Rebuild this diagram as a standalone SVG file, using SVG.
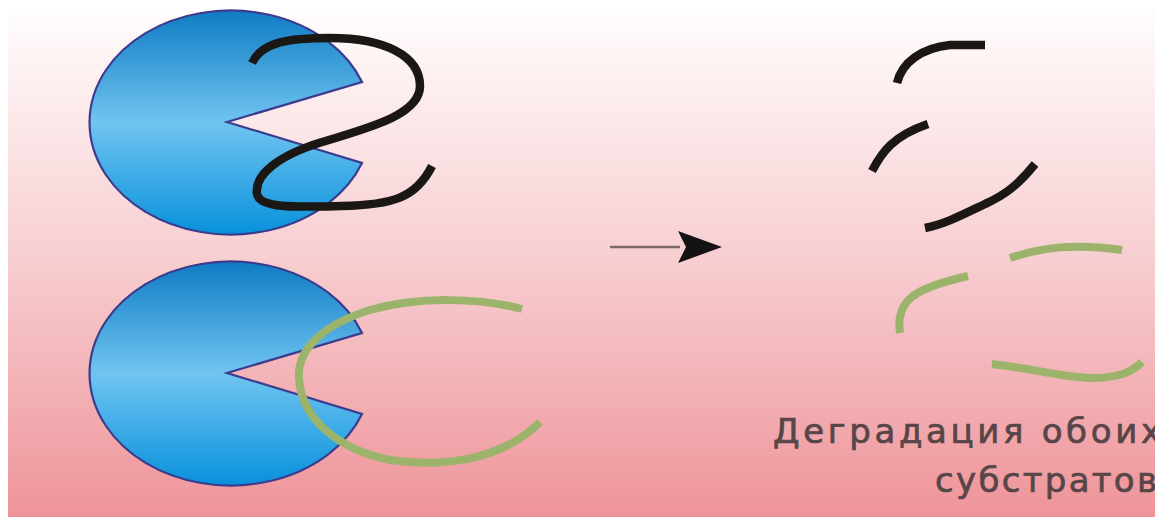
<svg xmlns="http://www.w3.org/2000/svg" width="1155" height="517" viewBox="0 0 1155 517">
  <defs>
    <linearGradient id="bg" x1="0" y1="0" x2="0" y2="1">
      <stop offset="0" stop-color="#fffdfd"/>
      <stop offset="0.5" stop-color="#f7cdd0"/>
      <stop offset="1" stop-color="#ee9499"/>
    </linearGradient>
    <linearGradient id="enzymeFill" x1="0" y1="0" x2="0" y2="1">
      <stop offset="0" stop-color="#0f7cc4"/>
      <stop offset="0.5" stop-color="#70c4f0"/>
      <stop offset="1" stop-color="#0891dc"/>
    </linearGradient>
    <style>
      .enzyme { fill: url(#enzymeFill); stroke: #3c3c8e; stroke-width: 2.2; stroke-linejoin: miter; }
      .black { fill: none; stroke: #1b1715; stroke-width: 8.5; stroke-linecap: butt; stroke-linejoin: round; }
      .green { fill: none; stroke: #9bb36b; stroke-width: 8; stroke-linecap: butt; stroke-linejoin: round; }
      .label { font-family: "DejaVu Sans", "Liberation Sans", sans-serif; font-size: 34px; fill: #574548; stroke: #574548; stroke-width: 0.7; }
    </style>
  </defs>

  <!-- backdrop -->
  <rect x="0" y="0" width="1155" height="517" fill="#ffffff"/>
  <rect x="8" y="8" width="1147" height="509" fill="url(#bg)"/>

  <!-- enzyme with a "2"-shaped substrate -->
  <g id="enzyme-1">
    <path class="enzyme" d="M227,122 L362,82 A141,112 0 1 0 362,163 Z"/>
  </g>
  <g id="substrate-black">
    <path class="black" d="M252,63 C262,42 288,38 330,38 C385,38 420,56 420,86 C420,114 372,127 322,142 C280,155 254,174 257,194 C260,209 300,207 342,206 C392,205 416,198 432,166"/>
  </g>

  <!-- enzyme with a "C"-shaped substrate -->
  <g id="enzyme-2">
    <path class="enzyme" d="M227,373 L362,333 A141,112 0 1 0 362,414 Z"/>
  </g>
  <g id="substrate-green">
    <path class="green" d="M522,309 C480,298 420,296 370,310 C322,325 297,350 299,378 C301,420 340,450 390,460 C440,467 500,462 540,422"/>
  </g>

  <!-- reaction arrow -->
  <g id="connectors">
    <line x1="610" y1="247" x2="680" y2="247" stroke="#7b696c" stroke-width="2.5"/>
    <polygon points="722,247 678,231 686,247 678,263" fill="#141212"/>
  </g>

  <!-- degraded fragments -->
  <g id="fragments-black">
    <path class="black" d="M897,83 C902,62 922,48 950,45 L985,45"/>
    <path class="black" d="M872,171 C882,152 893,136 928,124"/>
    <path class="black" d="M925,228 C945,224 962,215 985,204 C1005,195 1018,185 1035,164"/>
  </g>
  <g id="fragments-green">
    <path class="green" d="M1010,258 C1040,248 1070,243 1122,250"/>
    <path class="green" d="M900,333 C895,300 915,288 968,276"/>
    <path class="green" d="M992,364 C1030,368 1060,377 1090,378 C1115,378 1130,374 1142,362"/>
  </g>

  <!-- caption -->
  <g id="caption">
    <text class="label" x="773" y="443" textLength="388" lengthAdjust="spacing">Деградация обоих</text>
    <text class="label" x="935" y="492" textLength="222" lengthAdjust="spacing">субстратов</text>
  </g>
</svg>
